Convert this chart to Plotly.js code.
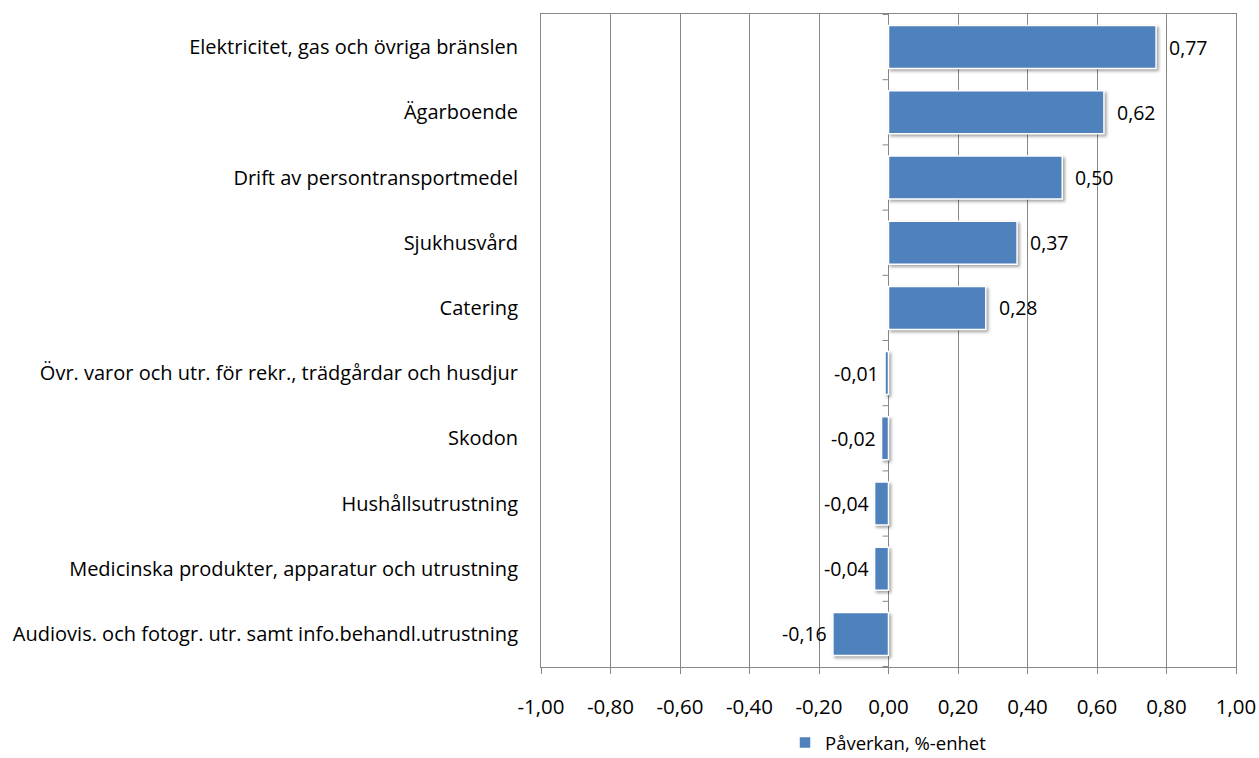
<!DOCTYPE html>
<html>
<head>
<meta charset="utf-8">
<script src="https://cdn.plot.ly/plotly-3.0.1.min.js"></script>
<style>
html,body{margin:0;padding:0;background:#fff;}
#chart{width:1259px;height:758px;}
.trace.bars .point path{filter:drop-shadow(2px 2px 1.5px rgba(0,0,0,0.35));}
</style>
</head>
<body>
<div id="chart"></div>
<script>
const categories = [
  "Elektricitet, gas och övriga bränslen",
  "Ägarboende",
  "Drift av persontransportmedel",
  "Sjukhusvård",
  "Catering",
  "Övr. varor och utr. för rekr., trädgårdar och husdjur",
  "Skodon",
  "Hushållsutrustning",
  "Medicinska produkter, apparatur och utrustning",
  "Audiovis. och fotogr. utr. samt info.behandl.utrustning"
];
const values = [0.77, 0.62, 0.50, 0.37, 0.28, -0.01, -0.02, -0.04, -0.04, -0.16];
const seriesName = "Påverkan, %-enhet";
const tickVals = [-1, -0.8, -0.6, -0.4, -0.2, 0, 0.2, 0.4, 0.6, 0.8, 1];

const fmt = v => v.toFixed(2).replace('.', ',');
const FONT = '"Open Sans", "DejaVu Sans", sans-serif';
const GRID = '#878787';

const trace = {
  type: 'bar',
  orientation: 'h',
  x: values,
  y: categories,
  name: seriesName,
  marker: {color: '#4F81BD', line: {color: '#FFFFFF', width: 1.5}},
  hoverinfo: 'x+y'
};

const annotations = values.map((v, i) => ({
  x: v, y: categories[i], xref: 'x', yref: 'y',
  text: fmt(v), showarrow: false,
  xanchor: v >= 0 ? 'left' : 'right',
  xshift: v >= 0 ? 11 : -4,
  font: {family: FONT, size: 19.5, color: '#000'}
}));

const shapes = [];
for (let i = 0; i <= categories.length; i++) {
  shapes.push({
    type: 'line', xref: 'x', yref: 'y', xsizemode: 'pixel', xanchor: 0,
    x0: -6, x1: 0, y0: i - 0.5, y1: i - 0.5,
    line: {color: GRID, width: 1}
  });
}

const layout = {
  width: 1259, height: 758,
  margin: {l: 541, r: 23, t: 14, b: 91, autoexpand: false},
  paper_bgcolor: '#fff', plot_bgcolor: '#fff',
  font: {family: FONT, size: 19.5, color: '#000'},
  showlegend: true,
  legend: {orientation: 'h', x: 0.5, xanchor: 'center', y: -0.1165, yanchor: 'middle',
           font: {family: FONT, size: 18.5}, itemwidth: 30},
  bargap: 0.34,
  xaxis: {
    range: [-1, 1], tickvals: tickVals, ticktext: tickVals.map(fmt),
    showgrid: true, gridcolor: GRID, gridwidth: 1,
    zeroline: true, zerolinecolor: GRID, zerolinewidth: 1.2,
    showline: true, linecolor: GRID, linewidth: 1, mirror: true,
    ticks: 'outside', ticklen: 6, tickcolor: GRID,
    ticklabelstandoff: 15,
    tickfont: {family: FONT, size: 20.5}, fixedrange: true
  },
  yaxis: {
    type: 'category', autorange: 'reversed',
    showgrid: false, zeroline: false,
    showline: true, linecolor: GRID, linewidth: 1, mirror: true,
    ticks: '', ticklabelstandoff: 18,
    tickfont: {family: FONT, size: 20}, fixedrange: true
  },
  shapes: shapes,
  annotations: annotations
};

Plotly.newPlot('chart', [trace], layout, {displayModeBar: false, staticPlot: true});
</script>
</body>
</html>
